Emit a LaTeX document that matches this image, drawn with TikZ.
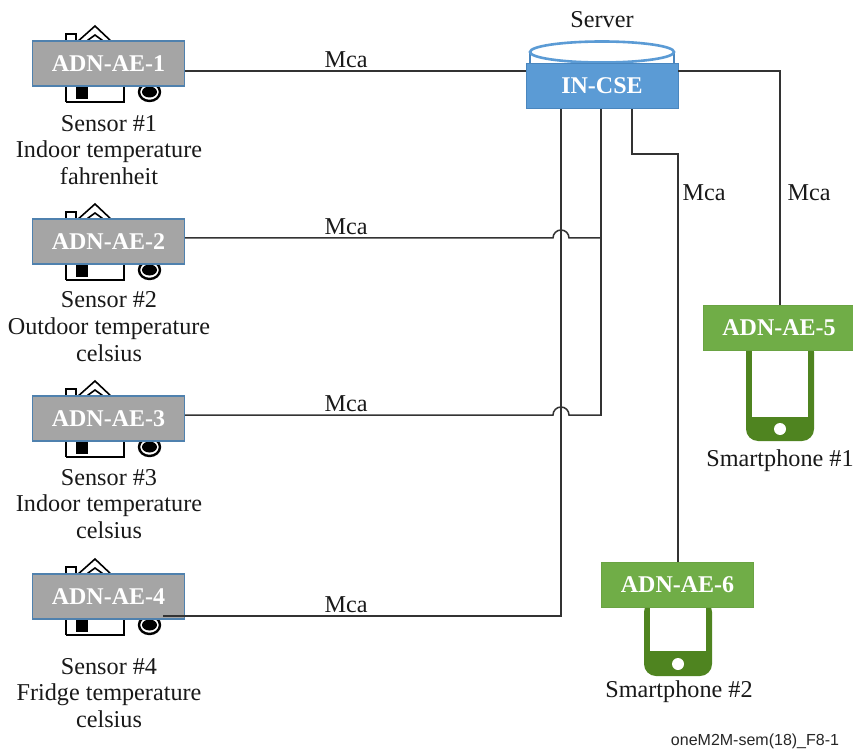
\documentclass[tikz,border=0pt]{standalone}
\usepackage{fontspec}
\setmainfont{Liberation Serif}
\setsansfont{Liberation Sans}
\begin{document}
\begin{tikzpicture}[x=1pt,y=-1pt,
  lbl/.style={font=\fontsize{24.2}{26.7}\selectfont,text=black!90,inner sep=0pt,align=center,anchor=center},
  boxgray/.style={draw=grayedge,line width=1.2pt,fill=grayfill,text=white,font=\fontsize{24}{26}\selectfont\bfseries,minimum width=152pt,minimum height=45pt,inner sep=0pt,text depth=-1.5pt},
  boxblue/.style={draw=cseedge,line width=1pt,fill=csefill,text=white,font=\fontsize{24}{26}\selectfont\bfseries,minimum width=152pt,minimum height=45pt,inner sep=0pt,text depth=-1.5pt},
  boxgreen/.style={draw=greenedge,line width=1pt,fill=greenfill,text=white,font=\fontsize{24}{26}\selectfont\bfseries,minimum width=152pt,minimum height=45pt,inner sep=0pt,text depth=-1.5pt},
  conn/.style={draw=black!80,line width=1.5pt}]
\definecolor{csefill}{HTML}{5B9BD5}
\definecolor{cseedge}{HTML}{4A86BE}
\definecolor{greenfill}{HTML}{70AD47}
\definecolor{greenedge}{HTML}{6AA343}
\definecolor{phonegreen}{HTML}{4F8420}
\definecolor{grayfill}{HTML}{A5A5A5}
\definecolor{grayedge}{HTML}{4F81AE}
\useasboundingbox (0,0) rectangle (853,751);
\fill[white] (0,0) rectangle (853,751);
% houses and sensors
\foreach \t in {41,219,396,574}{
  \begin{scope}[yshift=-\t pt]
  \draw[black,line width=1.6pt,line join=miter] (66,20) -- (66,-7) -- (76,-7) -- (76,2);
  \draw[black,line width=1.6pt] (66,61) -- (124,61) -- (124,40) (66,40) -- (66,61);
  \draw[black,line width=1.6pt] (76,2) -- (95,-15) -- (113,2);
  \draw[black,line width=1.6pt] (84,2) -- (95,-6) -- (106,2);
  \fill[black] (76,44) rectangle (88,58);
  \draw[black,line width=2.4pt,fill=white] (149.5,51) ellipse (10.5 and 9);
  \fill[black] (149.5,51) ellipse (7.5 and 5.5);
  \end{scope}
}
% phones
\fill[phonegreen,rounded corners=12pt] (746,340) -- (814,340) -- (814,441) -- (746,441) -- cycle;
\fill[white] (752,345) rectangle (808,417);
\fill[white] (780,429) circle (6);
\fill[phonegreen,rounded corners=12pt] (644,600) -- (712,600) -- (712,676) -- (644,676) -- cycle;
\fill[white] (650,600) rectangle (706,651);
\fill[white] (678,664) circle (6);
% cylinder
\draw[cseedge,line width=1.5pt,fill=white] (530,52) -- (530,66) -- (674,66) -- (674,52);
\draw[csefill,line width=2.6pt,fill=white] (602,52) ellipse (72 and 10.5);
% nodes
\node[boxgray] (a1) at (108.5,63.5) {ADN-AE-1};
\node[boxgray] (a2) at (108.5,241.5) {ADN-AE-2};
\node[boxgray] (a3) at (108.5,418.5) {ADN-AE-3};
\node[boxgray] (a4) at (108.5,596.5) {ADN-AE-4};
\node[boxblue] (cse) at (602,86) {IN-CSE};
\node[boxgreen] (a5) at (779,328) {ADN-AE-5};
\node[boxgreen] (a6) at (677.5,584.5) {ADN-AE-6};
% coordinates on the edges
\coordinate (cr) at (678,71);
\coordinate (cr2) at (780,71);
\coordinate (a5t) at (780,305);
\coordinate (b1) at (632,109);
\coordinate (b2) at (632,154);
\coordinate (b3) at (678,154);
\coordinate (a6t) at (678,562);
\coordinate (m1) at (601,109);
\coordinate (m2) at (601,416);
\coordinate (l1) at (561,109);
\coordinate (l2) at (561,616);
\coordinate (l3) at (163,616);
\draw[conn] (185,71) -- (526,71);
\draw[conn] (cr) -- (cr2) -- (a5t);
\draw[conn] (b1) -- (b2) -- (b3) -- (a6t);
\draw[conn] (m1) -- (m2);
\draw[conn] (l1) -- (l2) -- (l3);
\draw[conn] (185,238) -- (553,238) arc[start angle=180,end angle=360,radius=8] -- (601,238);
\draw[conn] (185,415) -- (553,415) arc[start angle=180,end angle=360,radius=8] -- (601,415);
% labels
\node[lbl] (m_1) at (346,60) {Mca};
\node[lbl] (m_2) at (346,227) {Mca};
\node[lbl] (m_3) at (346,404) {Mca};
\node[lbl] (m_4) at (346,605) {Mca};
\node[lbl] (m_5) at (704,193) {Mca};
\node[lbl] (m_6) at (809,193) {Mca};
\node[lbl] (srv) at (602,20) {Server};
\node[lbl] (s1) at (109,150) {Sensor \#1\\Indoor temperature\\fahrenheit};
\node[lbl] (s2) at (109,326.5) {Sensor \#2\\Outdoor temperature\\celsius};
\node[lbl] (s3) at (109,504) {Sensor \#3\\Indoor temperature\\celsius};
\node[lbl] (s4) at (109,693) {Sensor \#4\\Fridge temperature\\celsius};
\node[lbl] (p1) at (780,460.5) {Smartphone \#1};
\node[lbl] (p2) at (679,691.5) {Smartphone \#2};
\node[inner sep=0pt,font=\sffamily\fontsize{16}{18}\selectfont,text=black!85] (foot) at (755,741) {oneM2M-sem(18)\_F8-1};
\end{tikzpicture}
\end{document}
